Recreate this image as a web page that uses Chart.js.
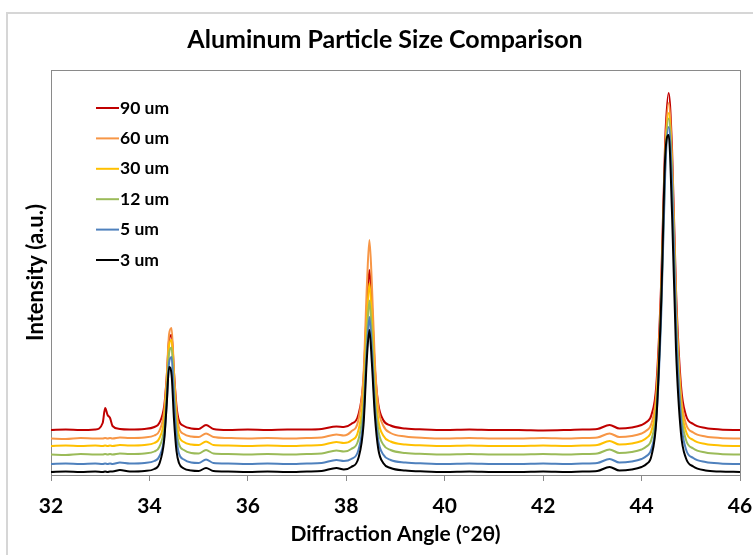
<!DOCTYPE html>
<html>
<head>
<meta charset="utf-8">
<script src="https://cdn.jsdelivr.net/npm/chart.js@4.4.1/dist/chart.umd.min.js"></script>
<style>
  html, body { margin: 0; padding: 0; background: #fff; overflow: hidden; }
  #wrap { position: relative; width: 753px; height: 555px; }
  #edge {
    position: absolute; left: 6px; top: 12px; width: 800px; height: 600px;
    border: 2px solid #d6d6d6; box-sizing: border-box;
  }
  #xrd { position: absolute; left: 0; top: 0; }
</style>
</head>
<body>
<div id="wrap">
  <div id="edge"></div>
  <canvas id="xrd" width="753" height="555"></canvas>
</div>
<script>
// 2θ positions shared by every scan
const angles = [
  32.0, 32.3, 32.6, 32.9, 33.05, 33.1, 33.15, 33.2, 33.25, 33.4, 33.6, 33.9,
  34.1, 34.2, 34.3, 34.35, 34.4, 34.45, 34.5, 34.55, 34.6, 34.7, 34.85, 35.0,
  35.15, 35.3, 35.6, 36.0, 36.4, 36.8, 37.2, 37.5, 37.8, 37.95, 38.1, 38.25,
  38.35, 38.42, 38.47, 38.52, 38.58, 38.65, 38.75, 38.9, 39.2, 39.6, 40.0, 40.5,
  41.0, 41.5, 42.0, 42.5, 42.8, 43.1, 43.35, 43.55, 43.8, 44.0, 44.1, 44.2,
  44.3, 44.4, 44.48, 44.55, 44.62, 44.7, 44.8, 44.9, 45.05, 45.3, 45.6, 46.0
];

// intensities (a.u.), scans stacked with an offset
const um90 = [
  45, 45.5, 45, 45.5, 52, 67, 60, 57, 49, 46, 45.5, 46,
  48, 52, 69, 97, 135, 140, 102, 69, 54.5, 49, 46.5, 46,
  50, 46, 45, 45.5, 45, 45.5, 45.5, 46, 48.5, 48, 51, 61,
  96, 170, 205, 170, 107, 71, 55, 49.5, 46.5, 45.5, 45, 45.5,
  45, 45, 44.5, 45, 45.5, 46, 50, 46.5, 47.5, 50, 53, 60,
  90, 195, 335, 382, 325, 185, 90, 60, 51, 47, 45.5, 45
];
const um60 = [
  36.5, 36, 37, 36.5, 36.5, 37, 36.5, 37, 36.5, 37.5, 37, 37.5,
  39.5, 44, 64, 97, 141, 147, 102.5, 64, 47.5, 41, 38.5, 38,
  41.5, 38, 37, 36.5, 37, 36.5, 37, 37.5, 40.5, 39.5, 43.5, 56,
  100, 191, 235, 191, 114, 68, 49.5, 42, 38.5, 37, 36.5, 37,
  36.5, 36.5, 37, 36.5, 37, 37.5, 41.5, 38, 39, 41.5, 44.5, 51.5,
  81.5, 185, 324, 372, 314, 175, 81.5, 51.5, 42.5, 38.5, 37, 36.5
];
const um30 = [
  29, 29.5, 29, 29.5, 29, 29.5, 29, 29.5, 29, 30, 29.5, 30,
  32, 36.5, 55.5, 87, 130, 135, 92.5, 55.5, 39.5, 33, 30.5, 30,
  33.5, 30, 29.5, 29, 29.5, 29, 29.5, 30, 33, 32, 34.5, 45.5,
  81, 156, 192, 156, 92.5, 55, 39.5, 33.5, 30.5, 29.5, 29, 29.5,
  29, 29, 29.5, 29, 29.5, 30, 34, 30.5, 31.5, 34, 37, 44,
  73.5, 177, 315, 362, 305.5, 167, 73.5, 44, 35, 31, 29.5, 29
];
const um12 = [
  20.5, 20, 21, 20.5, 20.5, 21, 20.5, 21, 20.5, 21.5, 21, 21.5,
  23.5, 28, 47, 79, 122, 127.5, 84.5, 47, 31, 25, 22, 21.5,
  25, 21.5, 21, 20.5, 21, 20.5, 21, 21.5, 24.5, 23.5, 26, 36,
  70, 140.5, 174.5, 140.5, 80.5, 45, 30.5, 25, 22, 21, 20.5, 21,
  20.5, 20.5, 21, 20.5, 21, 21.5, 25.5, 22, 23, 25.5, 28.5, 35.5,
  65.5, 170, 309.5, 356.5, 299.5, 160, 65.5, 35.5, 26.5, 22.5, 21, 20.5
];
const um5 = [
  11, 11.5, 11, 11.5, 11, 11.5, 11, 11.5, 11, 12.5, 11.5, 12,
  14, 18.5, 37.5, 70, 112.5, 118, 75, 37.5, 21.5, 15.5, 12.5, 12,
  15.5, 12, 11.5, 11, 11.5, 11, 11.5, 12, 15, 14, 16, 25.5,
  58, 125.5, 158, 125.5, 68.5, 34.5, 20.5, 15, 12.5, 11.5, 11, 11.5,
  11, 11, 11.5, 11, 11.5, 12, 16, 12.5, 13.5, 16, 19, 26,
  56, 161, 301, 348, 291, 151, 56, 26, 17, 13, 11.5, 11
];
const um3 = [
  3, 3.5, 3, 3.5, 3, 3.5, 3, 3.5, 3.5, 5, 3.5, 4,
  6, 11, 35, 70, 108, 100, 55, 24, 12, 6.5, 4.5, 4,
  7, 4, 3.5, 3, 3.5, 3, 3.5, 4, 7, 5.5, 8, 17.5,
  50, 118, 145, 112, 60, 26, 12, 7, 4.5, 3.5, 3, 3.5,
  3, 3, 3.5, 3, 3.5, 4, 8, 4.5, 5.5, 8, 11, 19,
  55, 175, 318, 340, 260, 125, 42, 17, 8.5, 4.5, 3.5, 3
];

const sizeLabels = ["90 um", "60 um", "30 um", "12 um", "5 um", "3 um"];
const sizeSeries = [um90, um60, um30, um12, um5, um3];
const sizeColors = ["#C00000", "#F79646", "#FFC000", "#9BBB59", "#4F81BD", "#000000"];
const chartTitle = "Aluminum Particle Size Comparison";

const FONT = "Lato, 'Open Sans', sans-serif";

// heading sits a little right of the plot centre
const heading = {
  id: "heading",
  afterDraw(chart) {
    const { ctx } = chart;
    ctx.save();
    ctx.font = "bold 25px " + FONT;
    ctx.fillStyle = "#000";
    ctx.textAlign = "center";
    ctx.textBaseline = "middle";
    ctx.fillText(chartTitle, 385, 40);
    ctx.restore();
  }
};

// grey box round the plot area
const plotFrame = {
  id: "plotFrame",
  beforeDatasetsDraw(chart) {
    const { ctx, chartArea: a } = chart;
    ctx.save();
    ctx.strokeStyle = "#8a8a8a";
    ctx.lineWidth = 1;
    ctx.strokeRect(Math.round(a.left) + 0.5, Math.round(a.top) + 0.5,
      Math.round(a.right - a.left), Math.round(a.bottom - a.top));
    ctx.restore();
  }
};

// legend drawn inside the top-left corner of the plot
const insideLegend = {
  id: "insideLegend",
  afterDraw(chart) {
    const { ctx, chartArea } = chart;
    const x0 = chartArea.left + 45;
    const y0 = chartArea.top + 38;
    const step = 30.4;
    ctx.save();
    ctx.font = "bold 17.5px " + FONT;
    ctx.textBaseline = "middle";
    ctx.textAlign = "left";
    sizeLabels.forEach((label, i) => {
      const y = y0 + i * step;
      ctx.strokeStyle = sizeColors[i];
      ctx.lineWidth = 2;
      ctx.beginPath();
      ctx.moveTo(x0, y);
      ctx.lineTo(x0 + 23, y);
      ctx.stroke();
      ctx.fillStyle = "#000";
      ctx.fillText(label, x0 + 24, y);
    });
    ctx.restore();
  }
};

const datasets = sizeSeries.map((vals, i) => ({
  label: sizeLabels[i],
  data: angles.map((a, j) => ({ x: a, y: vals[j] })),
  borderColor: sizeColors[i],
  backgroundColor: sizeColors[i],
  borderWidth: 2,
  pointRadius: 0,
  cubicInterpolationMode: "monotone",
  order: sizeSeries.length - i
}));

new Chart(document.getElementById("xrd"), {
  type: "line",
  data: { datasets },
  plugins: [plotFrame, insideLegend, heading],
  options: {
    responsive: false,
    animation: false,
    layout: { padding: { left: 0, right: 13, top: 70, bottom: 0 } },
    plugins: {
      legend: { display: false },
      tooltip: { enabled: false },
      title: { display: false }
    },
    scales: {
      x: {
        type: "linear",
        min: 32,
        max: 46,
        afterFit(scale) {
          scale.height = 80;
          scale.paddingLeft = 0;
          scale.paddingRight = 0;
        },
        border: { display: false },
        grid: { drawOnChartArea: false, drawTicks: true, tickLength: 6, color: "#8a8a8a" },
        ticks: {
          stepSize: 2,
          maxRotation: 0,
          autoSkip: false,
          padding: 13,
          color: "#000",
          font: { family: FONT, size: 21, weight: "bold" }
        },
        title: {
          display: true,
          text: "Diffraction Angle (°2θ)",
          color: "#000",
          font: { family: FONT, size: 21, weight: "bold" },
          padding: { top: 0, bottom: 8 }
        }
      },
      y: {
        min: 0,
        max: 405,
        afterFit(scale) { scale.width = 51; },
        border: { display: false },
        grid: { display: false },
        ticks: { display: false },
        title: {
          display: true,
          text: "Intensity (a.u.)",
          color: "#000",
          font: { family: FONT, size: 22, weight: "bold" },
          padding: { top: 23, bottom: 0 }
        }
      }
    }
  }
});
</script>
</body>
</html>
